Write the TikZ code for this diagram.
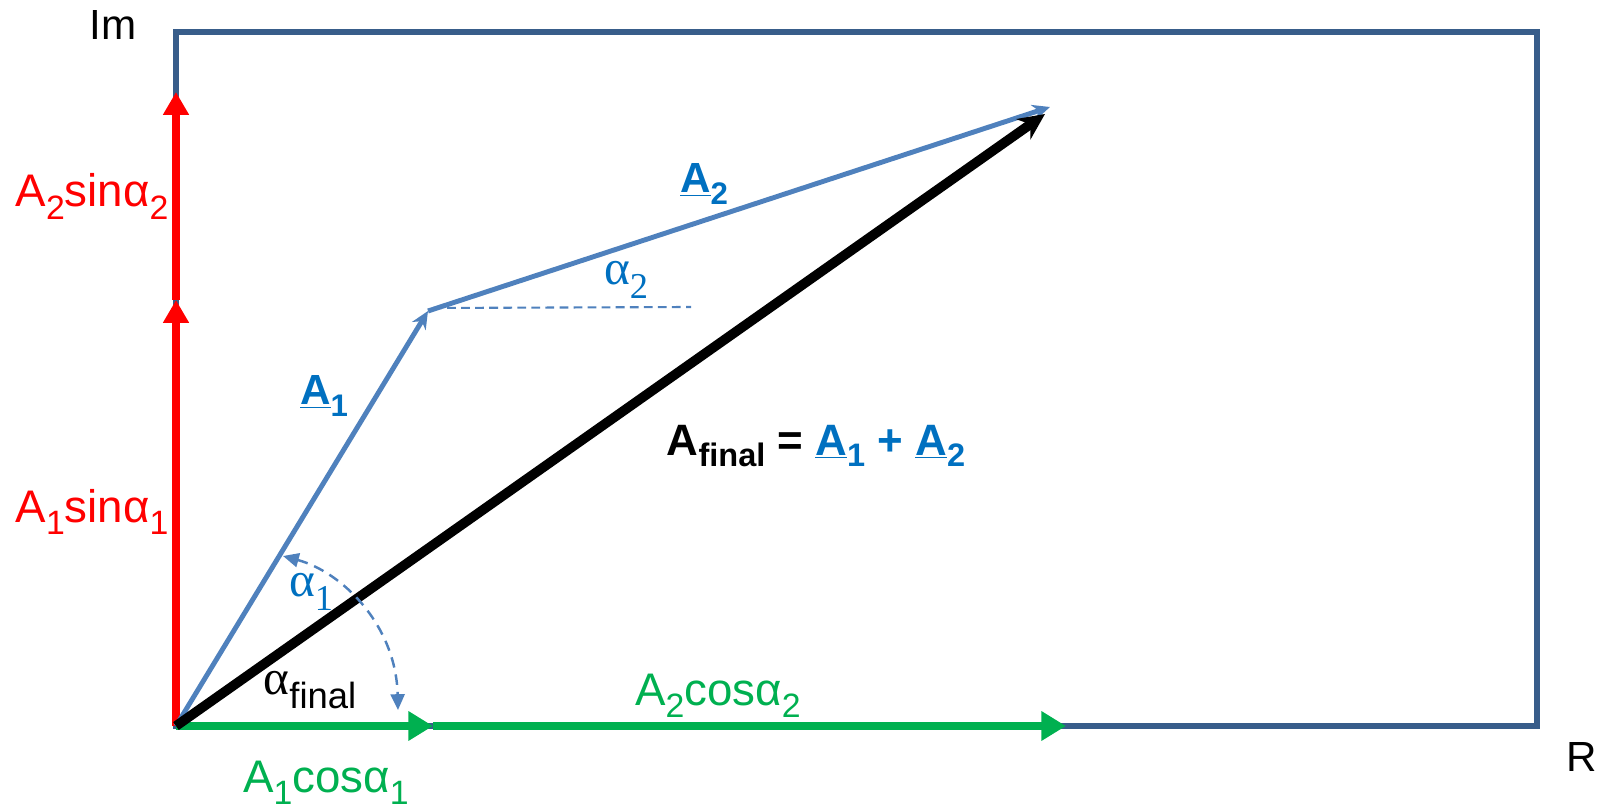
\documentclass[tikz,border=0pt]{standalone}
\usepackage{fontspec}
\setmainfont{Liberation Sans}
\newfontfamily\grk{Liberation Serif}
\usepackage{graphicx}
\usepackage{tikz}
\usetikzlibrary{arrows.meta}
\definecolor{redc}{RGB}{255,0,0}
\definecolor{greenc}{RGB}{0,176,80}
\definecolor{linec}{RGB}{79,129,189}
\definecolor{textc}{RGB}{0,112,192}
\definecolor{boxc}{RGB}{56,93,138}
\newcommand{\lsub}[1]{\raisebox{-0.27em}{\scalebox{0.74}{#1}}}
\newcommand{\ang}[1]{{\grk α\lsub{#1}}}

\begin{document}
\begin{tikzpicture}[x=0.02cm, y=-0.02cm, every node/.style={inner sep=0pt, font=\fontsize{26}{28}\selectfont},
  redvec/.style={draw=redc, line width=4.8pt, -{Triangle[length=13pt,width=14pt]}},
  greenvec/.style={draw=greenc, line width=4.3pt, -{Triangle[length=14pt,width=16pt]}},
  bluevec/.style={draw=linec, line width=2.8pt, -{Stealth[length=10pt,width=9pt]}},
  finalvec/.style={draw=black, line width=5.5pt, -{Stealth[length=15pt,width=14pt]}},
  bold/.style={font=\fontsize{24}{28}\selectfont\bfseries}]
  \useasboundingbox (0,0) rectangle (1599,810);
  % axes frame
  \coordinate (TL) at (176,32);
  \coordinate (BR) at (1537,726);
  \draw[boxc, line width=3pt] (TL) rectangle (BR);
  \node[font=\fontsize{24}{26}\selectfont, anchor=base] (im) at (113,40) {Im};
  \node[font=\fontsize{24}{26}\selectfont, anchor=base east] (re) at (1597,771) {R};
  % vectors
  \coordinate (O) at (176,726);
  \coordinate (P1) at (428,311);
  \coordinate (P2) at (1050,107);
  \coordinate (F) at (1045,114);
  \coordinate (C1) at (433,726);
  \coordinate (C2) at (1066,726);
  \coordinate (S1) at (176,300);
  \coordinate (S2) at (176,92);
  \coordinate (D) at (691,307);
  \draw[greenvec] (O) -- (C1);
  \draw[greenvec] (C1) -- (C2);
  \draw[redvec] (O) -- (S1);
  \draw[redvec] (S1) -- (S2);
  \draw[bluevec] (O) -- (P1);
  \draw[bluevec] (P1) -- (P2);
  \draw[finalvec] (O) -- (F);
  % angles
  \draw[linec, line width=1.2pt, dash pattern=on 5pt off 3pt] (P1) ++(5,-3) -- (D);
  \coordinate (a1s) at (283,556);
  \coordinate (a1e) at (398,710);
  \draw[linec, line width=1.4pt, dash pattern=on 6pt off 4pt, {Triangle[length=9pt,width=8pt]}-{Triangle[length=9pt,width=8pt]}] (a1s) .. controls (342,572) and (396,625) .. (a1e);
  % labels
  \node[redc, anchor=base] (s2) at (92,207) {A\lsub{2}sinα\lsub{2}};
  \node[redc, anchor=base] (s1) at (92,522) {A\lsub{1}sinα\lsub{1}};
  \node[greenc, anchor=base] (c2) at (718,705) {A\lsub{2}cosα\lsub{2}};
  \node[greenc, anchor=base] (c1) at (326,792) {A\lsub{1}cosα\lsub{1}};
  \node[bold, textc] (v1) at (324,396) {\underline{A}\lsub{1}};
  \node[bold, textc] (v2) at (704,184) {\underline{A}\lsub{2}};
  \node[textc, font=\fontsize{28}{30}\selectfont] (al2) at (626,280) {\ang{2}};
  \node[textc, font=\fontsize{28}{30}\selectfont] (al1) at (311,592) {\ang{1}};
  \node[font=\fontsize{28}{30}\selectfont] (alf) at (310,690) {{\grk α}\lsub{final}};
  \node[bold, font=\fontsize{25}{28}\selectfont\bfseries] (eq) at (816,446) {A\lsub{final} = {\color{textc}\underline{A}\lsub{1} + \underline{A}\lsub{2}}};
\end{tikzpicture}
\end{document}
